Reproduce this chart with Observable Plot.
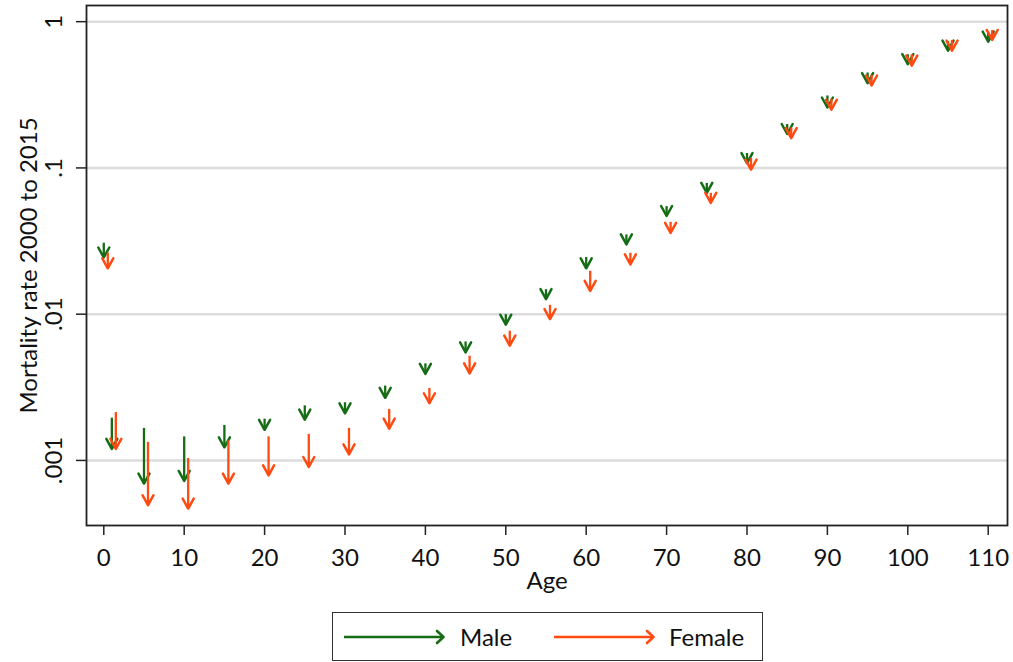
<!DOCTYPE html>
<html>
<head>
<meta charset="utf-8">
<script src="https://cdn.jsdelivr.net/npm/d3@7"></script>
<script src="https://cdn.jsdelivr.net/npm/@observablehq/plot@0.6"></script>
<style>
  html, body { margin: 0; padding: 0; background: #fff; }
  #wrap { position: relative; width: 1013px; height: 662px; font-family: Lato, sans-serif; }
  #legend { position: absolute; left: 332px; top: 612px; width: 429px; height: 47px;
    border: 1.5px solid #333; font-size: 24px; color: #111; }
  #legend .item { position: absolute; top: 0; height: 47px; display: flex; align-items: center; }
</style>
</head>
<body>
<div id="wrap">
  <div id="chart"></div>
  <div id="legend"></div>
</div>
<script>
const ages = [0, 1, 5, 10, 15, 20, 25, 30, 35, 40, 45, 50, 55, 60, 65, 70, 75, 80, 85, 90, 95, 100, 105, 110];
const male2000 = [0.0308, 0.00196, 0.00167, 0.00146, 0.00175, 0.00193, 0.00238, 0.00250, 0.00325, 0.00461, 0.00651, 0.01002, 0.01483, 0.0246, 0.0351, 0.0548, 0.0790, 0.1265, 0.1995, 0.313, 0.449, 0.598, 0.739, 0.855];
const male2015 = [0.0244, 0.00120, 0.000695, 0.000724, 0.00123, 0.00162, 0.00190, 0.00210, 0.00268, 0.00391, 0.00548, 0.00847, 0.01267, 0.0206, 0.0300, 0.0469, 0.0676, 0.108, 0.1706, 0.259, 0.380, 0.512, 0.634, 0.731];
const female2000 = [0.0264, 0.00214, 0.00134, 0.00104, 0.00137, 0.00146, 0.00152, 0.00167, 0.00225, 0.00313, 0.00520, 0.00771, 0.01159, 0.0198, 0.0263, 0.0428, 0.0676, 0.117, 0.189, 0.297, 0.433, 0.598, 0.75, 0.877];
const female2015 = [0.0206, 0.00120, 0.000494, 0.000469, 0.000695, 0.000791, 0.000902, 0.00110, 0.00165, 0.00246, 0.00394, 0.00609, 0.00926, 0.01444, 0.0219, 0.0360, 0.0577, 0.0975, 0.160, 0.250, 0.366, 0.501, 0.634, 0.75];
const series = ["Male", "Female"];
const colors = ["#146c14", "#ff4a12"];
const xTicks = [0, 10, 20, 30, 40, 50, 60, 70, 80, 90, 100, 110];
const yTicks = [1, 0.1, 0.01, 0.001];
const yTickLabels = ["1", ".1", ".01", ".001"];
const yTitle = "Mortality rate 2000 to 2015";
const xTitle = "Age";

const maleRows = ages.map((a, i) => ({age: a, y1: male2000[i], y2: male2015[i]}));
const femaleRows = ages.map((a, i) => ({age: a, y1: female2000[i], y2: female2015[i]}));

const head = {
  draw(context, l) {
    context.moveTo(-5.5, -l + 10);
    context.lineTo(0, -l);
    context.lineTo(5.5, -l + 10);
  }
};

function arrows(rows, color, dx) {
  return [
    Plot.link(rows, {x1: "age", x2: "age", y1: "y1", y2: "y2", dx, stroke: color, strokeWidth: 2.3, strokeLinecap: "butt"}),
    Plot.vector(rows, {x: "age", y: "y2", dx, rotate: 180, anchor: "end", length: 10, shape: head,
      stroke: color, strokeWidth: 2.5, strokeLinecap: "round", strokeLinejoin: "round"})
  ];
}

const chart = Plot.plot({
  width: 1013,
  height: 600,
  marginLeft: 86,
  marginRight: 6,
  marginTop: 5,
  marginBottom: 75,
  style: {fontFamily: "Lato, sans-serif", fontSize: "24px", background: "#fff", color: "#111"},
  x: {domain: [-2.15, 112.4]},
  y: {type: "log", domain: [3.59e-4, 1.29]},
  marks: [
    Plot.gridY(yTicks, {stroke: "#dcdcdc", strokeOpacity: 1, strokeWidth: 2.5}),
    ...arrows(maleRows, colors[0], 0),
    ...arrows(femaleRows, colors[1], 4),
    Plot.frame({stroke: "#222", strokeWidth: 1.8}),
    Plot.axisY(yTicks, {tickSize: 10, tickRotate: -90, tickPadding: 15, label: null,
      tickFormat: (d) => yTickLabels[yTicks.indexOf(d)], strokeWidth: 1.5, stroke: "#222"}),
    Plot.axisX(xTicks, {tickSize: 10, tickPadding: 13, label: null, strokeWidth: 1.5, stroke: "#222"}),
    Plot.text([yTitle], {frameAnchor: "left", dx: -57, rotate: -90, textAnchor: "middle", lineAnchor: "middle", fontSize: 24, fill: "#111"}),
    Plot.text([xTitle], {frameAnchor: "bottom", dy: 56, textAnchor: "middle", lineAnchor: "middle", fontSize: 24, fill: "#111"})
  ]
});
document.getElementById("chart").appendChild(chart);

// legend
const legend = document.getElementById("legend");
const legendPos = [{arrow: 10, text: 127}, {arrow: 220, text: 336}];
series.forEach((name, i) => {
  const p = legendPos[i];
  const a = document.createElement("div");
  a.className = "item";
  a.style.left = p.arrow + "px";
  a.innerHTML = `<svg width="104" height="20" viewBox="0 0 104 20"><line x1="1" y1="10" x2="100" y2="10" stroke="${colors[i]}" stroke-width="2.4"/><path d="M94,4 L100.5,10 L94,16" fill="none" stroke="${colors[i]}" stroke-width="2.6" stroke-linecap="round" stroke-linejoin="round"/></svg>`;
  legend.appendChild(a);
  const t = document.createElement("div");
  t.className = "item";
  t.style.left = p.text + "px";
  t.textContent = name;
  legend.appendChild(t);
});
</script>
</body>
</html>
